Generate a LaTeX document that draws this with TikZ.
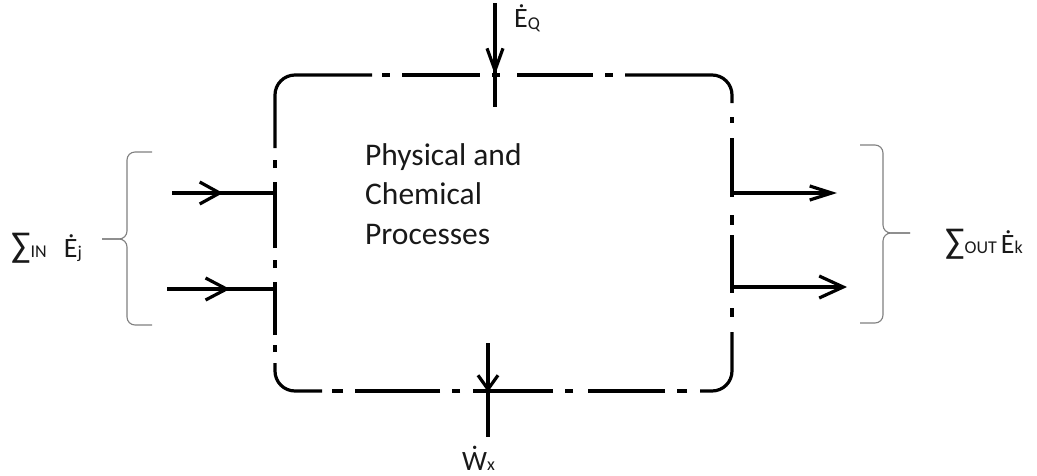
\documentclass[tikz,border=0pt]{standalone}
\usepackage{fontspec}
\setmainfont{Carlito}
\usetikzlibrary{arrows.meta}
\newcommand\dotW{\accent"02D9 W}
\newcommand\subtxt[1]{\hbox{\fontsize{18}{18}\selectfont #1}}
\newcommand\bigsum{\hbox{\fontsize{36}{36}\selectfont ∑}}
\begin{document}
\begin{tikzpicture}[x=1pt,y=-1pt,
  boxline/.style={line width=3.2pt, black},
  flow/.style={line width=3.2pt, black},
  bracestyle/.style={line width=1.1pt, black!50, rounded corners=8pt},
  lbl/.style={anchor=base west, inner sep=0pt, text=black!90, font=\fontsize{28}{28}\selectfont}]
\useasboundingbox (0,0) rectangle (1037,475);

% ---- system boundary (dash-dot rounded box) ----
\draw[boxline, rounded corners=20pt] (275,148) |- (372,75);
\draw[boxline] (382,75) -- (390,75);
\draw[boxline] (402,75) -- (480,75);
\draw[boxline] (492,75) -- (500,75);
\draw[boxline] (517,75) -- (593,75);
\draw[boxline] (605,75) -- (613,75);
\draw[boxline, rounded corners=20pt] (625,75) -| (732,103);
\draw[boxline] (732,117) -- (732,123);
\draw[boxline] (732,138) -- (732,197);
\draw[boxline] (732,215) -- (732,225);
\draw[boxline] (732,235) -- (732,293);
\draw[boxline] (732,308) -- (732,317);
\draw[boxline, rounded corners=20pt] (732,332) |- (700,391);
\draw[boxline] (687,391) -- (677,391);
\draw[boxline] (665,391) -- (588,391);
\draw[boxline] (573,391) -- (565,391);
\draw[boxline] (553,391) -- (473,391);
\draw[boxline] (460,391) -- (452,391);
\draw[boxline] (440,391) -- (355,391);
\draw[boxline] (343,391) -- (332,391);
\draw[boxline, rounded corners=20pt] (322,391) -| (275,363);
\draw[boxline] (275,352) -- (275,345);
\draw[boxline] (275,335) -- (275,282);
\draw[boxline] (275,268) -- (275,260);
\draw[boxline] (275,248) -- (275,182);
\draw[boxline] (275,168) -- (275,160);

% ---- text ----
\node[anchor=north west, inner sep=0pt, align=left, text=black!90,
      font=\fontsize{31.5}{39.5}\selectfont] (proc) at (365,143)
      {Physical and\\Chemical\\Processes};

\node[lbl] (eq) at (514,27) {Ė\lower2.5pt\subtxt{Q}};
\node[lbl] (wx) at (462,470) {\dotW\subtxt{x}};
\node[lbl] (sin) at (11,257) {\bigsum\subtxt{IN}\hspace{17pt}Ė\lower1pt\subtxt{j}};
\node[lbl] (sout) at (945,253) {\bigsum\subtxt{OUT}\hspace{4pt}Ė\subtxt{k}};

% ---- connector end points ----
\coordinate (q0) at (495,3);   \coordinate (qt) at (495,75);  \coordinate (q1) at (495,107);
\coordinate (w0) at (488,343); \coordinate (wt) at (488,392); \coordinate (w1) at (488,437);
\coordinate (a0) at (172,193); \coordinate (at) at (223,193); \coordinate (a1) at (275,193);
\coordinate (b0) at (167,289); \coordinate (bt) at (230,289); \coordinate (b1) at (275,289);
\coordinate (c0) at (732,193); \coordinate (c1) at (837,193);
\coordinate (d0) at (732,287); \coordinate (d1) at (847,287);

% ---- flows ----
\draw[flow] (q0) -- (q1);
\draw[flow, -{Straight Barb[length=22pt, width=16pt]}] (q0) -- (qt);
\draw[flow] (w0) -- (w1);
\draw[flow, -{Straight Barb[length=14pt, width=20pt]}] (w0) -- (wt);
\draw[flow] (a0) -- (a1);
\draw[flow, -{Straight Barb[length=20pt, width=22pt]}] (a0) -- (at);
\draw[flow] (b0) -- (b1);
\draw[flow, -{Straight Barb[length=21pt, width=22pt]}] (b0) -- (bt);
\draw[flow, -{Straight Barb[length=22pt, width=14pt]}] (c0) -- (c1);
\draw[flow, -{Straight Barb[length=24pt, width=22pt]}] (d0) -- (d1);

% ---- braces ----
\coordinate (lb1) at (152,152); \coordinate (lbm) at (102,239); \coordinate (lb2) at (152,325);
\coordinate (rb1) at (860,145); \coordinate (rbm) at (910,233); \coordinate (rb2) at (860,323);
\draw[bracestyle] (lb1) -| (127,239) -- (lbm);
\draw[bracestyle] (lbm) -- (127,239) |- (lb2);
\draw[bracestyle] (rb1) -| (883,233) -- (rbm);
\draw[bracestyle] (rbm) -- (883,233) |- (rb2);
\end{tikzpicture}
\end{document}
